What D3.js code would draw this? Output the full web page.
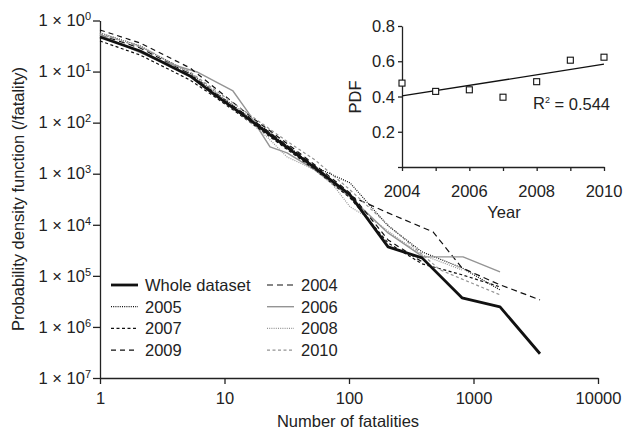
<!DOCTYPE html>
<html>
<head>
<meta charset="utf-8">
<script src="https://cdn.jsdelivr.net/npm/d3@7"></script>
<style>
  body { margin: 0; background: #fff; }
  text { font-family: "Liberation Sans", Arial, sans-serif; fill: #222; }
</style>
</head>
<body>
<div id="container"></div>
<script>
// power-law pdf of fatalities, whole dataset + yearly, with inset of fitted exponent

// [fatalities, pdf] pairs
var whole = [[1,0.475],[2.1,0.253],[5.28,0.082],[8.39,0.0348],[16,0.0113],[30.6,0.0035],[53.3,0.0013],[102,3.85e-4],[206,3.69e-5],[386,2.25e-5],[808,3.71e-6],[1633,2.47e-6],[3420,2.98e-7]];
var y2004 = [[1,0.52],[2.1,0.29],[5.28,0.0897],[8.39,0.0381],[16,0.0124],[30.6,0.00383],[53.3,0.00142],[102,3.68e-4],[206,1.71e-4],[473,7.26e-5],[808,1.43e-5],[1633,6.67e-6],[3420,3.39e-6]];
var y2005 = [[1,0.569],[2.1,0.317],[5.28,0.0939],[8.39,0.0399],[16,0.0124],[30.6,0.00383],[53.3,0.00136],[102,6.61e-4],[206,9.52e-5],[386,2.95e-5],[808,1.43e-5],[1633,5.32e-6]];
var y2006 = [[1,0.52],[2.87,0.169],[6.01,0.0982],[11.7,0.0417],[15.4,0.0162],[23.2,0.00335],[31.8,0.00255],[53.3,0.00119],[102,3.52e-4],[206,6.94e-5],[393,2.35e-5],[824,2.35e-5],[1633,1.2e-5]];
var y2007 = [[1,0.397],[2.1,0.211],[5.28,0.0685],[8.39,0.0318],[16,0.0103],[30.6,0.0032],[53.3,0.00119],[102,3.36e-4],[206,4.42e-5],[386,1.72e-5],[808,1.05e-5],[1633,6.09e-6]];
var y2008 = [[1,0.569],[2.1,0.317],[5.28,0.0897],[8.39,0.0399],[16,0.0103],[22.4,0.00502],[31.8,0.00213],[53.3,0.00119],[74.4,6.04e-4],[102,2.24e-4],[168,1.09e-4],[257,5.06e-5],[386,2.58e-5],[808,1.31e-5]];
var y2009 = [[1,0.652],[2.1,0.363],[5.28,0.118],[8.39,0.0478],[16,0.0135],[30.6,0.00419],[53.3,0.00149],[102,4.21e-4],[206,5.06e-5],[386,1.88e-5]];
var y2010 = [[1,0.544],[2.1,0.303],[5.28,0.0982],[8.39,0.0436],[16,0.0141],[30.6,0.00459],[53.3,0.00186],[102,4.82e-4],[206,9.95e-5],[538,1.31e-5],[1633,4.25e-6]];

var xTicks = [1, 10, 100, 1000, 10000];
var yTicks = [1, 1e-1, 1e-2, 1e-3, 1e-4, 1e-5, 1e-6, 1e-7];

// inset
var years = [2004, 2005, 2006, 2007, 2008, 2009, 2010];
var yearPdf = [0.476, 0.429, 0.438, 0.396, 0.484, 0.606, 0.623];
var insetYTicks = [0.2, 0.4, 0.6, 0.8];
var insetXLabels = [2004, 2006, 2008, 2010];

var W = 632, H = 431;
var svg = d3.select("#container").append("svg")
    .attr("width", W)
    .attr("height", H);

var x = d3.scaleLog().domain([1, 10000]).range([100, 598]);
var y = d3.scaleLog().domain([1e-7, 1]).range([378, 20.5]);

// x axis
svg.append("g")
    .attr("transform", "translate(0,378)")
    .call(d3.axisBottom(x).tickValues(xTicks).tickSize(6).tickSizeOuter(0).tickFormat(d3.format("d")))
    .call(g => g.select(".domain").attr("stroke", "#222").attr("stroke-width", 1.3))
    .call(g => g.selectAll(".tick line").attr("stroke", "#222").attr("stroke-width", 1.3))
    .call(g => g.selectAll("text").attr("font-size", 16.5).attr("dy", "1.05em").attr("fill", "#222")
        .style("font-family", "Liberation Sans, Arial, sans-serif"));

// y axis with "1 × 10^n" labels
var yAxisG = svg.append("g")
    .attr("transform", "translate(100,0)")
    .call(d3.axisLeft(y).tickValues(yTicks).tickSize(7).tickSizeOuter(0))
    .call(g => g.select(".domain").attr("stroke", "#222").attr("stroke-width", 1.3))
    .call(g => g.selectAll(".tick line").attr("stroke", "#222").attr("stroke-width", 1.3));

yAxisG.selectAll(".tick text").each(function(d) {
  var t = d3.select(this).text("")
      .attr("x", -9)
      .attr("font-size", 16.5)
      .attr("fill", "#222")
      .style("font-family", "Liberation Sans, Arial, sans-serif");
  t.append("tspan").text("1 \u00d7 10");
  t.append("tspan")
      .attr("font-size", 11)
      .attr("dy", "-0.55em")
      .text(Math.round(-Math.log10(d)));
});

// axis titles
svg.append("text")
    .attr("x", 348)
    .attr("y", 427)
    .attr("text-anchor", "middle")
    .attr("font-size", 16.5)
    .text("Number of fatalities");

svg.append("text")
    .attr("transform", "translate(24,199) rotate(-90)")
    .attr("text-anchor", "middle")
    .attr("font-size", 16.5)
    .text("Probability density function (/fatality)");

// series
var grey = "#949494";
var series = [
  {name: "Whole dataset", data: whole, color: "#111", width: 2.8, dash: null},
  {name: "2004", data: y2004, color: "#111", width: 1.2, dash: "6,4"},
  {name: "2005", data: y2005, color: "#111", width: 1.2, dash: "1,1.2"},
  {name: "2006", data: y2006, color: grey, width: 1.4, dash: null},
  {name: "2007", data: y2007, color: "#111", width: 1.2, dash: "3,2.5"},
  {name: "2008", data: y2008, color: grey, width: 1.2, dash: "1,1.2"},
  {name: "2009", data: y2009, color: "#111", width: 1.2, dash: "5,4"},
  {name: "2010", data: y2010, color: grey, width: 1.2, dash: "3,2.5"}
];

var line = d3.line()
    .x(function(d) { return x(d[0]); })
    .y(function(d) { return y(d[1]); });

// draw thin ones first, whole dataset on top
series.slice(1).concat([series[0]]).forEach(function(s) {
  svg.append("path")
      .datum(s.data)
      .attr("fill", "none")
      .attr("stroke", s.color)
      .attr("stroke-width", s.width)
      .attr("stroke-dasharray", s.dash)
      .attr("stroke-linejoin", "round")
      .attr("d", line);
});

// legend, two columns
var legend = svg.append("g");
series.forEach(function(s, i) {
  var col = i % 2, row = Math.floor(i / 2);
  var lx = col === 0 ? 111 : 267;
  var ly = 285 + row * 21.7;
  legend.append("line")
      .attr("x1", lx).attr("x2", lx + 27)
      .attr("y1", ly).attr("y2", ly)
      .attr("stroke", s.color)
      .attr("stroke-width", s.width)
      .attr("stroke-dasharray", s.dash);
  legend.append("text")
      .attr("x", lx + 34)
      .attr("y", ly + 6)
      .attr("font-size", 16.5)
      .text(s.name);
});

// inset chart
var ix = d3.scaleLinear().domain([2004, 2010]).range([402, 604]);
var iy = d3.scaleLinear().domain([0, 0.8]).range([167, 26]);

svg.append("g")
    .attr("transform", "translate(0,167)")
    .call(d3.axisBottom(ix).tickValues(years).tickSize(4).tickSizeOuter(0).tickFormat(""))
    .call(g => g.select(".domain").attr("stroke", "#222").attr("stroke-width", 1.3))
    .call(g => g.selectAll(".tick line").attr("stroke", "#222").attr("stroke-width", 1.3));

svg.append("g")
    .attr("transform", "translate(402,0)")
    .call(d3.axisLeft(iy).tickValues([0].concat(insetYTicks)).tickSize(4).tickSizeOuter(0).tickFormat(""))
    .call(g => g.select(".domain").attr("stroke", "#222").attr("stroke-width", 1.3))
    .call(g => g.selectAll(".tick line").attr("stroke", "#222").attr("stroke-width", 1.3));

svg.selectAll(".iyl")
    .data(insetYTicks)
  .enter().append("text")
    .attr("x", 395)
    .attr("y", function(d) { return iy(d) + 6; })
    .attr("text-anchor", "end")
    .attr("font-size", 16.5)
    .text(function(d) { return d.toFixed(1); });

svg.selectAll(".ixl")
    .data(insetXLabels)
  .enter().append("text")
    .attr("x", function(d) { return ix(d); })
    .attr("y", 197)
    .attr("text-anchor", "middle")
    .attr("font-size", 16.5)
    .text(function(d) { return d; });

svg.append("text")
    .attr("x", 504)
    .attr("y", 218)
    .attr("text-anchor", "middle")
    .attr("font-size", 16.5)
    .text("Year");

svg.append("text")
    .attr("transform", "translate(361,97) rotate(-90)")
    .attr("text-anchor", "middle")
    .attr("font-size", 16.5)
    .text("PDF");

// least-squares fit through the yearly points
var mx = d3.mean(years), my = d3.mean(yearPdf);
var sxy = d3.sum(years, function(v, i) { return (v - mx) * (yearPdf[i] - my); });
var sxx = d3.sum(years, function(v) { return (v - mx) * (v - mx); });
var slope = sxy / sxx, icpt = my - slope * mx;

svg.append("line")
    .attr("x1", ix(2004)).attr("y1", iy(icpt + slope * 2004))
    .attr("x2", ix(2010)).attr("y2", iy(icpt + slope * 2010))
    .attr("stroke", "#111")
    .attr("stroke-width", 1.3);

svg.selectAll(".sq")
    .data(years)
  .enter().append("rect")
    .attr("x", function(d) { return ix(d) - 3; })
    .attr("y", function(d, i) { return iy(yearPdf[i]) - 3; })
    .attr("width", 6)
    .attr("height", 6)
    .attr("fill", "#fff")
    .attr("stroke", "#111")
    .attr("stroke-width", 1.1);

var r2 = svg.append("text")
    .attr("x", 533)
    .attr("y", 109)
    .attr("font-size", 16.5);
r2.append("tspan").text("R");
r2.append("tspan").attr("font-size", 9).attr("dy", "-0.7em").text("2");
r2.append("tspan").attr("dy", "0.45em").text(" = 0.544");
</script>
</body>
</html>
